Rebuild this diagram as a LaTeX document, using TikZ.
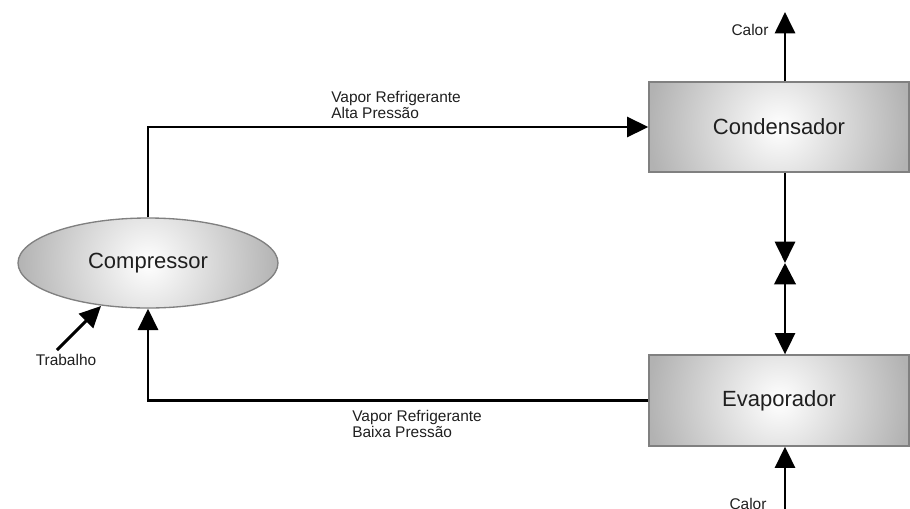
\documentclass[tikz,border=0pt]{standalone}
\usepackage{fontspec}
\setmainfont{Liberation Sans}
\usetikzlibrary{arrows.meta,shapes.geometric}
\begin{document}
\begin{tikzpicture}[x=0.75pt,y=-0.75pt,
  unit/.style={draw=black!50,line width=1pt,fill=black!30,
    path picture={\shade[inner color=white,outer color=black!30]
      (path picture bounding box.center) circle (98pt);},
    minimum width=195pt,minimum height=67.5pt,inner sep=0pt,font=\fontsize{16.5pt}{20pt}\selectfont,text=black!88},
  flow/.style={line width=2.2pt,-{Triangle[length=16pt,width=15pt]}},
  lbl/.style={inner sep=0pt,align=left,font=\fontsize{11.6pt}{12pt}\selectfont,text=black!88}]
\useasboundingbox (0,0) rectangle (910,508);

% components
\node[unit] (cond) at (779,127) {Condensador};
\node[unit,minimum height=68.2pt] (evap) at (779,400.5) {Evaporador};
\node[unit,ellipse] (comp) at (148,263) {Compressor};

% expansion valve and free ends
\coordinate (valve) at (785,263);
\coordinate (heatout) at (785,12);
\coordinate (heatin) at (785,520);
\coordinate (work) at (57,350);
\coordinate (worktip) at (101,306);

% refrigerant circuit
\draw[flow] (comp.north) |- (cond.west);
\draw[flow] (evap.west) -| (comp.south);
\draw[flow] (cond.south -| valve) -- (valve);
\draw[line width=2.2pt,{Triangle[length=16pt,width=16pt]}-{Triangle[length=16pt,width=15pt]}] (valve) -- (evap.north -| valve);

% heat and work
\draw[flow] (cond.north -| heatout) -- (heatout);
\draw[flow] (heatin) -- (evap.south -| heatin);
\draw[flow] (work) -- (worktip);

% labels
\node[lbl,anchor=north west] (hp) at (331,91) {Vapor Refrigerante\\Alta Pressão};
\node[lbl,anchor=north west] (lp) at (352,410) {Vapor Refrigerante\\Baixa Pressão};
\node[lbl] (qout) at (750,30) {Calor};
\node[lbl,anchor=north] (qin) at (748,498) {Calor};
\node[lbl] (wlbl) at (66,360) {Trabalho};
\end{tikzpicture}
\end{document}
